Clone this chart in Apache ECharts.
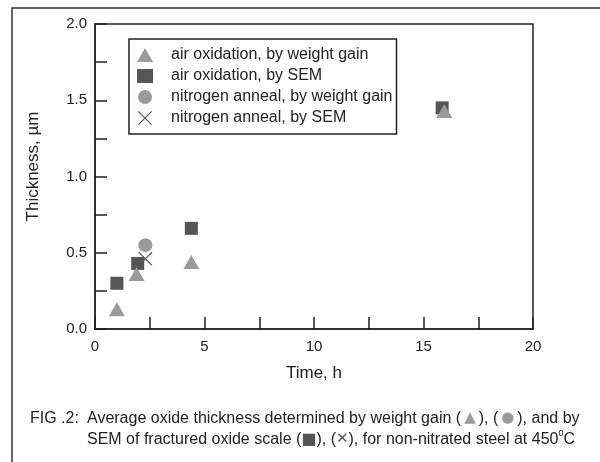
<!DOCTYPE html>
<html>
<head>
<meta charset="utf-8">
<script src="https://cdn.jsdelivr.net/npm/echarts@6/dist/echarts.min.js"></script>
<style>
  html, body { margin: 0; padding: 0; background: #fff; }
  #chart { width: 600px; height: 462px; }
</style>
</head>
<body>
<div id="chart"></div>
<script>
// values (time in h, thickness in um)
const airWeightGain = [[1.0, 0.13], [1.9, 0.36], [4.4, 0.44], [15.95, 1.43]]
const airSem = [[1.0, 0.30], [1.95, 0.43], [4.4, 0.66], [15.85, 1.45]]
const nitrogenWeightGain = [[2.3, 0.55]]
const nitrogenSem = [[2.3, 0.46]]

const seriesNames = [
  'air oxidation, by weight gain',
  'air oxidation, by SEM',
  'nitrogen anneal, by weight gain',
  'nitrogen anneal, by SEM'
]

const lightGrey = '#9a9a9a'
const darkGrey = '#555555'
const ink = '#222'
const font = 'Liberation Sans, Arial, sans-serif'

// an x mark as a filled outline so that it draws like the other symbols
const crossPath = 'path://M0,0.6L0.6,0L5,4.4L9.4,0L10,0.6L5.6,5L10,9.4L9.4,10L5,5.6L0.6,10L0,9.4L4.4,5Z'

const chart = echarts.init(document.getElementById('chart'), null, { renderer: 'canvas' })

chart.setOption({
  animation: false,
  backgroundColor: '#fff',
  textStyle: { fontFamily: font, color: ink },
  grid: {
    left: 95,
    top: 24,
    right: 67,
    bottom: 133,
    show: true,
    borderColor: ink,
    borderWidth: 1.5
  },
  legend: {
    orient: 'vertical',
    left: 129,
    top: 39,
    padding: [8, 4, 8, 8],
    itemGap: 5,
    itemWidth: 16,
    itemHeight: 14,
    borderColor: ink,
    borderWidth: 1.5,
    textStyle: { fontSize: 16, color: ink, fontFamily: font, padding: [0, 0, 0, 13] },
    data: [
      { name: seriesNames[0], icon: 'triangle' },
      { name: seriesNames[1], icon: 'rect' },
      { name: seriesNames[2], icon: 'circle' },
      { name: seriesNames[3], icon: crossPath }
    ]
  },
  xAxis: {
    type: 'value',
    min: 0,
    max: 20,
    interval: 2.5,
    name: 'Time, h',
    nameLocation: 'middle',
    nameGap: 36,
    nameTextStyle: { fontSize: 17, color: ink },
    axisLine: { lineStyle: { color: ink, width: 1.5 } },
    axisTick: { inside: true, length: 12, lineStyle: { color: ink, width: 1.5 } },
    axisLabel: {
      fontSize: 15,
      color: ink,
      margin: 10,
      formatter: v => (v % 5 === 0 ? String(v) : '')
    },
    splitLine: { show: false }
  },
  yAxis: {
    type: 'value',
    min: 0,
    max: 2,
    interval: 0.25,
    name: 'Thickness, µm',
    nameLocation: 'middle',
    nameGap: 53,
    nameTextStyle: { fontSize: 17, color: ink, padding: [0, 0, 0, 20] },
    axisLine: { lineStyle: { color: ink, width: 1.5 } },
    axisTick: { inside: true, length: 12, lineStyle: { color: ink, width: 1.5 } },
    axisLabel: {
      fontSize: 15,
      color: ink,
      margin: 8,
      formatter: v => (Math.abs(v * 2 - Math.round(v * 2)) < 1e-9 ? v.toFixed(1) : '')
    },
    splitLine: { show: false }
  },
  series: [
    {
      name: seriesNames[1],
      type: 'scatter',
      symbol: 'rect',
      symbolSize: 13,
      itemStyle: { color: darkGrey, opacity: 1 },
      data: airSem,
      z: 2
    },
    {
      name: seriesNames[0],
      type: 'scatter',
      symbol: 'triangle',
      symbolSize: [16, 14],
      itemStyle: { color: lightGrey, opacity: 1 },
      data: airWeightGain,
      z: 3
    },
    {
      name: seriesNames[2],
      type: 'scatter',
      symbol: 'circle',
      symbolSize: 14,
      itemStyle: { color: lightGrey, opacity: 1 },
      data: nitrogenWeightGain,
      z: 2
    },
    {
      name: seriesNames[3],
      type: 'scatter',
      symbol: crossPath,
      symbolSize: 14,
      itemStyle: { color: darkGrey, opacity: 1 },
      data: nitrogenSem,
      z: 3
    }
  ],
  graphic: [
    // the figure frame (left and top edges show in the scan)
    {
      type: 'polyline',
      silent: true,
      shape: { points: [[12, 462], [12, 8], [600, 8]] },
      style: { stroke: '#333', lineWidth: 1.5, fill: null }
    },
    {
      type: 'text',
      left: 30,
      top: 408,
      style: { text: 'FIG .2:', font: '16px ' + font, fill: ink, lineHeight: 21 }
    },
    {
      type: 'text',
      left: 87,
      top: 408,
      style: {
        text: 'Average oxide thickness determined by weight gain ({tri|\u2009▲\u2009}), ({dot|\u2009●\u2009}), and by\nSEM of fractured oxide scale ({sq|■}), ({x|✕}), for non-nitrated steel at 450{sup|0}C',
        font: '16px ' + font,
        fill: ink,
        lineHeight: 21,
        rich: {
          tri: { fill: lightGrey, fontSize: 15, fontFamily: 'DejaVu Sans', lineHeight: 21 },
          dot: { fill: lightGrey, fontSize: 15, fontFamily: 'DejaVu Sans', lineHeight: 21 },
          sq: { fill: darkGrey, fontSize: 16, fontFamily: 'DejaVu Sans', lineHeight: 21 },
          x: { fill: darkGrey, fontSize: 15, fontFamily: 'DejaVu Sans', lineHeight: 21 },
          sup: { fill: ink, fontSize: 9, verticalAlign: 'top', lineHeight: 14 }
        }
      }
    }
  ]
})
</script>
</body>
</html>
